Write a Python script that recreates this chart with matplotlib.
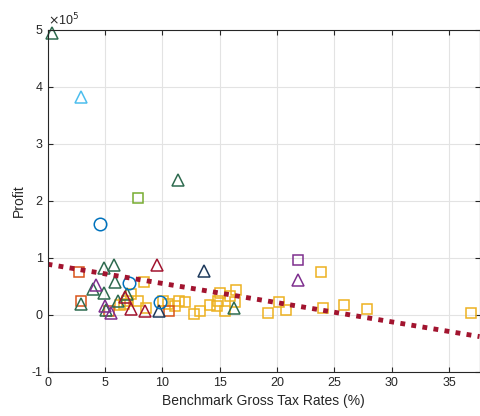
import numpy as np
import matplotlib
matplotlib.use('Agg')
import matplotlib.pyplot as plt
import matplotlib.ticker as tck

plt.rcParams['font.family'] = ['Liberation Sans', 'DejaVu Sans']
plt.rcParams['axes.unicode_minus'] = False

# profit values in units of 1e5, tax rates in %
yel_sq_x = [6.3, 6.9, 7.3, 7.9, 8.6, 8.4, 6.7, 10.1, 10.5, 11.1, 11.5, 12.0, 12.8, 13.3,
            14.2, 14.8, 15.0, 14.9, 15.5, 15.9, 16.4, 16.3, 19.2, 20.2, 20.8, 23.8,
            24.0, 25.8, 27.8, 36.9]
yel_sq_y = [0.17, 0.25, 0.37, 0.25, 0.12, 0.57, 0.20, 0.24, 0.19, 0.15, 0.25, 0.22, 0.01, 0.06,
            0.17, 0.15, 0.38, 0.24, 0.07, 0.34, 0.43, 0.23, 0.04, 0.22, 0.09, 0.75,
            0.13, 0.18, 0.10, 0.04]
org_sq_x = [2.7, 2.9, 5.4, 10.6]
org_sq_y = [0.76, 0.24, 0.075, 0.075]
grn_sq_x = [7.9]
grn_sq_y = [2.05]
pur_sq_x = [21.8]
pur_sq_y = [0.96]
dg_tri_x = [0.4, 11.4, 4.9, 5.8, 5.9, 4.0, 4.9, 2.9, 5.1, 6.1, 6.9, 16.25]
dg_tri_y = [4.95, 2.36, 0.83, 0.875, 0.58, 0.45, 0.39, 0.20, 0.09, 0.25, 0.37, 0.13]
lb_tri_x = [2.9]
lb_tri_y = [3.83]
pur_tri_x = [21.8, 4.2, 5.0, 5.5]
pur_tri_y = [0.61, 0.53, 0.16, 0.04]
red_tri_x = [9.5, 8.5, 7.3, 6.75]
red_tri_y = [0.88, 0.075, 0.10, 0.32]
nav_tri_x = [13.6, 9.7]
nav_tri_y = [0.77, 0.075]
blu_ci_x = [4.6, 7.1, 9.8]
blu_ci_y = [1.59, 0.555, 0.23]
fit_x = [0, 37.65]
fit_y = [0.89, -0.38]

fig = plt.figure(figsize=(4.8, 4.16), dpi=100)
ax = fig.add_axes([0.099, 0.106, 0.9, 0.822])

def pts(xs, ys, mk, col, ms):
    ax.plot(xs, np.array(ys) * 1e5, linestyle='none', marker=mk, mfc='none',
            mec=col, ms=ms, mew=1.1, clip_on=False)

pts(yel_sq_x, yel_sq_y, 's', '#EDB120', 7.5)
pts(org_sq_x, org_sq_y, 's', '#D95319', 7.5)
pts(grn_sq_x, grn_sq_y, 's', '#77AC30', 7.5)
pts(pur_sq_x, pur_sq_y, 's', '#7E2F8E', 7.5)
pts(dg_tri_x, dg_tri_y, '^', '#2E6B4F', 9)
pts(lb_tri_x, lb_tri_y, '^', '#4DBEEE', 9)
pts(pur_tri_x, pur_tri_y, '^', '#7E2F8E', 9)
pts(red_tri_x, red_tri_y, '^', '#A2142F', 9)
pts(nav_tri_x, nav_tri_y, '^', '#1E3A5C', 9)
pts(blu_ci_x, blu_ci_y, 'o', '#0072BD', 9)
ax.plot(fit_x, np.array(fit_y) * 1e5, color='#A2142F', linestyle=(0, (1, 1.3)), linewidth=3.5)

ax.set_xlim(0, 37.65)
ax.set_ylim(-1e5, 5e5)
ax.set_xticks(np.arange(0, 40, 5))
ax.set_yticks(np.arange(-1e5, 6e5, 1e5))
ax.yaxis.set_major_formatter(tck.FuncFormatter(lambda v, p: '%g' % (v / 1e5)))
ax.text(0.0, 1.004, r'$\times$10$^5$', transform=ax.transAxes, ha='left', va='bottom',
        fontsize=9, color='#262626')
ax.grid(True, color='#E3E3E3', linewidth=0.8)
ax.set_axisbelow(True)
ax.tick_params(direction='in', top=True, right=True, labelsize=9, colors='#262626', length=3.5)
for s in ax.spines.values():
    s.set_color('#262626')
    s.set_linewidth(0.8)
ax.set_xlabel('Benchmark Gross Tax Rates (%)', fontsize=10, color='#262626')
ax.set_ylabel('Profit', fontsize=10, color='#262626')

fig.savefig('out.png', dpi=100)
